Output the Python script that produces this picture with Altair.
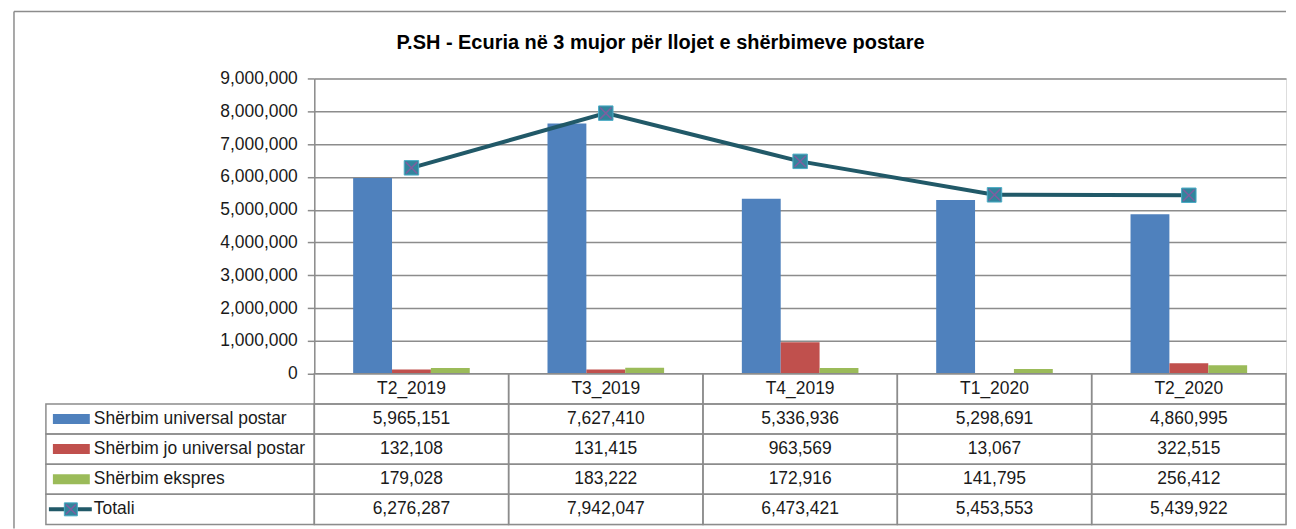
import altair as alt
import pandas as pd

# ---------------- data ----------------
categories = ["T2_2019", "T3_2019", "T4_2019", "T1_2020", "T2_2020"]
series_names = ["Shërbim universal postar", "Shërbim jo universal postar", "Shërbim ekspres"]
universal = [5965151, 7627410, 5336936, 5298691, 4860995]
jo_universal = [132108, 131415, 963569, 13067, 322515]
ekspres = [179028, 183222, 172916, 141795, 256412]
totali = [6276287, 7942047, 6473421, 5453553, 5439922]
total_name = "Totali"
title_text = "P.SH - Ecuria në 3 mujor për llojet e shërbimeve postare"
y_ticks = [0, 1000000, 2000000, 3000000, 4000000, 5000000, 6000000, 7000000, 8000000, 9000000]

# ---------------- style ----------------
bar_colors = ["#4F81BD", "#C0504D", "#9BBB59"]
FONT = "Liberation Sans"
GRID = "#8C8C8C"
LINE = "#215968"
MARK_FILL = "#31859C"
MARK_EDGE = "#4BACC6"
MARK_X = "#7E5EA0"
TXT = "#1a1a1a"
FS = 17.5
W, H = 974, 296
TH = 151
XSHAPE = "M-1,-1L1,1M1,-1L-1,1"

values_by_series = [universal, jo_universal, ekspres]
bars_df = pd.DataFrame(
    [{"cat": c, "series": s, "value": v[i]}
     for s, v in zip(series_names, values_by_series)
     for i, c in enumerate(categories)]
)
tot_df = pd.DataFrame({"cat": categories, "value": totali})
one = pd.DataFrame({"t": [title_text]})

# ---------------- top chart ----------------
x_top = alt.X("cat:N", sort=categories,
              scale=alt.Scale(type="band", domain=categories, paddingInner=0.4, paddingOuter=0.2),
              axis=None)
y_axis = alt.Axis(values=y_ticks, format=",d", title=None, grid=True, labelOverlap=False,
                  gridColor=GRID, gridWidth=1.5, domainColor=GRID, domainWidth=1.5,
                  tickColor=GRID, tickWidth=1.5, tickSize=7, labelPadding=10,
                  labelFontSize=FS, labelColor=TXT, labelFont=FONT)
y_top = alt.Y("value:Q", scale=alt.Scale(domain=[0, 9000000], nice=False), axis=y_axis)

bars = alt.Chart(bars_df).mark_bar().encode(
    x=x_top,
    xOffset=alt.XOffset("series:N", sort=series_names,
                        scale=alt.Scale(domain=series_names, paddingInner=0, paddingOuter=0)),
    y=y_top,
    color=alt.Color("series:N", scale=alt.Scale(domain=series_names, range=bar_colors), legend=None),
)
line = alt.Chart(tot_df).mark_line(color=LINE, strokeWidth=4).encode(x=x_top, y=y_top)
squares = alt.Chart(tot_df).mark_point(shape="square", filled=True, fill=MARK_FILL, stroke=MARK_EDGE,
                                        strokeWidth=1, size=210, opacity=1).encode(x=x_top, y=y_top)
crosses = alt.Chart(tot_df).mark_point(shape=XSHAPE, filled=False, stroke=MARK_X, strokeWidth=1.5,
                                        size=130, opacity=1).encode(x=x_top, y=y_top)
title = alt.Chart(one).mark_text(font=FONT, fontSize=20, fontWeight="bold", color="#000000").encode(
    x=alt.value(347), y=alt.value(-36), text="t:N")
frame_left = alt.Chart(one).mark_rule(color=GRID, strokeWidth=1.5).encode(
    x=alt.value(-301), y=alt.value(-67), y2=alt.value(H + TH + 4))
frame_top = alt.Chart(one).mark_rule(color=GRID, strokeWidth=1.5).encode(
    x=alt.value(-301), x2=alt.value(W), y=alt.value(-67))

top = alt.layer(bars, frame_left, frame_top, title, line, squares, crosses).properties(width=W, height=H)

# ---------------- data table ----------------
rows = ["hdr"] + series_names + [total_name]
x_tab = alt.X("cat:N", sort=categories,
              scale=alt.Scale(type="band", domain=categories, paddingInner=0, paddingOuter=0), axis=None)
y_tab = alt.Y("row:N", scale=alt.Scale(type="band", domain=rows, paddingInner=0, paddingOuter=0), axis=None)

cells_df = pd.DataFrame([{"cat": c, "row": r} for r in rows for c in categories])
vals_df = pd.DataFrame(
    [{"cat": c, "row": r, "value": v[i]}
     for r, v in zip(series_names + [total_name], values_by_series + [totali])
     for i, c in enumerate(categories)]
)
hdr_df = pd.DataFrame({"cat": categories, "row": ["hdr"] * len(categories)})
leg_df = pd.DataFrame({"row": series_names + [total_name]})
sw_df = pd.DataFrame({"row": series_names})
tl_df = pd.DataFrame({"row": [total_name]})

cells = alt.Chart(cells_df).mark_rect(fillOpacity=0, stroke=GRID, strokeWidth=1.5).encode(x=x_tab, y=y_tab)
hdr_txt = alt.Chart(hdr_df).mark_text(font=FONT, fontSize=FS, color=TXT).encode(x=x_tab, y=y_tab, text="cat:N")
val_txt = alt.Chart(vals_df).mark_text(font=FONT, fontSize=FS, color=TXT).encode(
    x=x_tab, y=y_tab, text=alt.Text("value:Q", format=",d"))
leg_box = alt.Chart(leg_df).mark_rect(fillOpacity=0, stroke=GRID, strokeWidth=1.5).encode(
    x=alt.value(-269), x2=alt.value(0), y=y_tab)
leg_txt = alt.Chart(leg_df).mark_text(font=FONT, fontSize=FS, color=TXT, align="left").encode(
    x=alt.value(-221), y=y_tab, text="row:N")
swatch = alt.Chart(sw_df).mark_rule(strokeWidth=10).encode(
    x=alt.value(-262), x2=alt.value(-225), y=y_tab,
    color=alt.Color("row:N", scale=alt.Scale(domain=series_names, range=bar_colors), legend=None))
tl_line = alt.Chart(tl_df).mark_rule(strokeWidth=4, color=LINE).encode(
    x=alt.value(-266), x2=alt.value(-223), y=y_tab)
tl_sq = alt.Chart(tl_df).mark_point(shape="square", filled=True, fill=MARK_FILL, stroke=MARK_EDGE,
                                    strokeWidth=1, size=170, opacity=1).encode(x=alt.value(-244), y=y_tab)
tl_x = alt.Chart(tl_df).mark_point(shape=XSHAPE, filled=False, stroke=MARK_X, strokeWidth=1.5,
                                   size=100, opacity=1).encode(x=alt.value(-244), y=y_tab)

table = alt.layer(cells, leg_box, hdr_txt, val_txt, leg_txt, swatch, tl_line, tl_sq, tl_x).properties(
    width=W, height=TH)

chart = alt.vconcat(top, table, spacing=0, bounds="flush").resolve_scale(
    x="independent", y="independent", color="independent"
).properties(
    padding={"left": 4, "top": 1, "right": 0, "bottom": 0}
).configure_view(strokeWidth=0).configure(font=FONT)

chart.save("out.html", embed_options={"renderer": "svg", "actions": False})
